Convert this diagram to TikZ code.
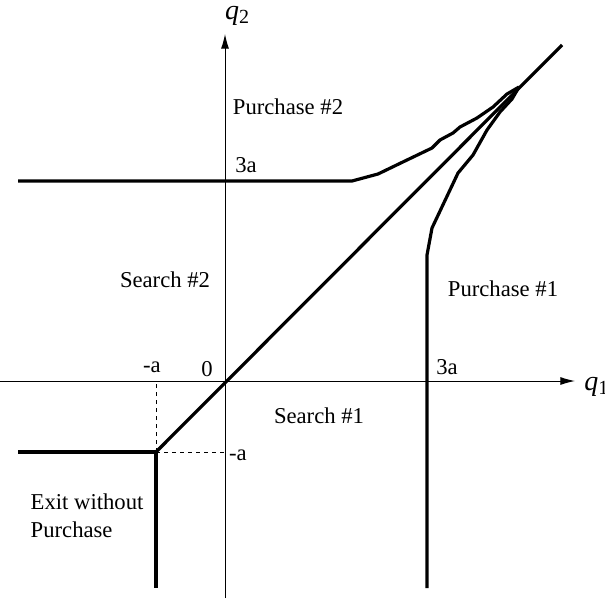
\documentclass[tikz,border=0pt]{standalone}
\usepackage{fontspec}
\setmainfont{Liberation Serif}
\usetikzlibrary{arrows.meta}
\newcommand{\qvar}[1]{{\fontsize{21}{21}\selectfont\itshape q}\raisebox{-0.35ex}{\fontsize{15}{15}\selectfont #1}}
\begin{document}
\begin{tikzpicture}[x=0.75pt,y=-0.75pt,line cap=butt,line join=round,
  >={Latex[length=11pt,width=6pt]},
  every node/.style={font=\fontsize{17}{21}\selectfont}]
  \useasboundingbox (0,0) rectangle (605,599);
  % axes
  \coordinate (O) at (225,381);
  \coordinate (Xend) at (575,381);
  \coordinate (Yend) at (225,34);
  \draw[line width=0.75pt,->] (0,381) -- (Xend);
  \draw[line width=0.75pt,->] (225,598) -- (Yend);
  \node[anchor=west,inner sep=0pt] at (584,387) {\qvar{1}};
  \node at (237,16) {\qvar{2}};
  % corner point (-a,-a)
  \coordinate (A) at (156,452);
  \draw[line width=0.75pt,dashed] (A) -- (156,381);
  \draw[line width=0.75pt,dashed] (A) -- (225,452);
  % boundaries
  \draw[line width=2.4pt] (18,452) -- (A) -- (156,588);
  \draw[line width=2.4pt] (A) -- (562,45);
  \draw[line width=2.4pt] (18,181) -- (352,181) -- (378,174) -- (407,160)
    -- (432,148) -- (440,140) -- (453,133) -- (460,127) -- (477,118)
    -- (493,107) -- (507,94) -- (519,87);
  \draw[line width=2.4pt] (427,588) -- (427,255) -- (432,228) -- (458,173)
    -- (473,155) -- (487,130) -- (500,112) -- (512,99) -- (519,87);
  % labels
  \node at (288,107) {Purchase \#2};
  \node at (246,165) {3a};
  \node at (165,280) {Search \#2};
  \node at (503,289) {Purchase \#1};
  \node at (152,367) {-a};
  \node at (207,369) {0};
  \node at (447,367) {3a};
  \node at (319,416) {Search \#1};
  \node at (238,455) {-a};
  \node[anchor=west] at (26,502) {Exit without};
  \node[anchor=west] at (26,530) {Purchase};
\end{tikzpicture}
\end{document}
